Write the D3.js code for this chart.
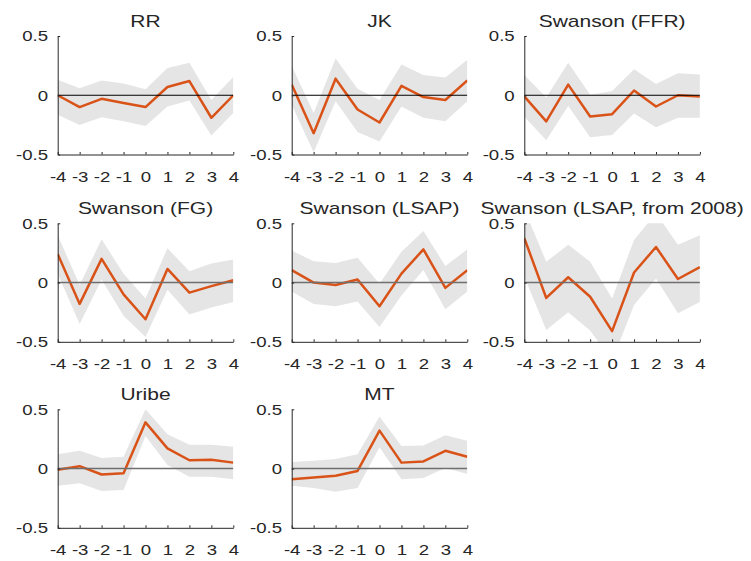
<!DOCTYPE html>
<html>
<head>
<meta charset="utf-8">
<script src="https://cdn.jsdelivr.net/npm/d3@7"></script>
<style>
  html, body { margin: 0; padding: 0; background: #fff; }
  svg { display: block; }
  text { font-family: "Liberation Sans", Arial, Helvetica, sans-serif; fill: #262626; }
</style>
</head>
<body>
<svg id="chart" width="751" height="561"></svg>
<script>
// Event-window horizons and axis ticks
const horizons = [-4, -3, -2, -1, 0, 1, 2, 3, 4];
const yTicks = [-0.5, 0, 0.5];
const yTickLabels = ["-0.5", "0", "0.5"];
const xTickLabels = ["-4", "-3", "-2", "-1", "0", "1", "2", "3", "4"];

const titles = ["RR", "JK", "Swanson (FFR)", "Swanson (FG)", "Swanson (LSAP)",
                "Swanson (LSAP, from 2008)", "Uribe", "MT"];

// Point estimates and confidence bands per shock measure
const estRR   = [0.00, -0.10, -0.03, -0.065, -0.10, 0.07, 0.12, -0.19, 0.00];
const hiRR    = [0.13, 0.06, 0.125, 0.10, 0.05, 0.23, 0.275, -0.04, 0.155];
const loRR    = [-0.165, -0.25, -0.185, -0.22, -0.26, -0.095, -0.045, -0.34, -0.15];

const estJK   = [0.09, -0.32, 0.14, -0.12, -0.23, 0.08, -0.015, -0.04, 0.125];
const hiJK    = [0.25, -0.15, 0.31, 0.055, -0.04, 0.26, 0.17, 0.15, 0.30];
const loJK    = [-0.08, -0.48, -0.05, -0.31, -0.39, -0.095, -0.19, -0.22, -0.05];

const estFFR  = [-0.01, -0.22, 0.09, -0.18, -0.16, 0.04, -0.095, 0.00, -0.01];
const hiFFR   = [0.17, -0.02, 0.275, 0.005, 0.035, 0.22, 0.095, 0.185, 0.175];
const loFFR   = [-0.18, -0.38, -0.09, -0.355, -0.335, -0.155, -0.27, -0.19, -0.19];

const estFG   = [0.24, -0.18, 0.20, -0.10, -0.31, 0.115, -0.085, -0.03, 0.02];
const hiFG    = [0.40, -0.02, 0.365, 0.075, -0.135, 0.29, 0.095, 0.16, 0.195];
const loFG    = [0.075, -0.35, 0.025, -0.28, -0.46, -0.06, -0.27, -0.21, -0.165];

const estLSAP = [0.105, 0.00, -0.02, 0.025, -0.20, 0.075, 0.28, -0.045, 0.105];
const hiLSAP  = [0.27, 0.18, 0.165, 0.21, -0.01, 0.26, 0.435, 0.14, 0.28];
const loLSAP  = [-0.075, -0.18, -0.20, -0.16, -0.375, -0.11, 0.105, -0.225, -0.075];

const estL08  = [0.375, -0.13, 0.045, -0.12, -0.41, 0.085, 0.30, 0.03, 0.13];
const hiL08   = [0.62, 0.175, 0.32, 0.175, -0.135, 0.36, 0.585, 0.32, 0.40];
const loL08   = [0.05, -0.40, -0.25, -0.405, -0.66, -0.19, 0.035, -0.26, -0.165];

const estUribe = [-0.01, 0.02, -0.05, -0.04, 0.39, 0.17, 0.07, 0.075, 0.05];
const hiUribe  = [0.12, 0.15, 0.09, 0.10, 0.50, 0.29, 0.20, 0.20, 0.185];
const loUribe  = [-0.145, -0.125, -0.19, -0.18, 0.275, 0.03, -0.07, -0.07, -0.09];

const estMT   = [-0.09, -0.075, -0.06, -0.02, 0.32, 0.05, 0.06, 0.15, 0.10];
const hiMT    = [0.055, 0.065, 0.08, 0.12, 0.44, 0.19, 0.195, 0.28, 0.235];
const loMT    = [-0.145, -0.165, -0.195, -0.165, 0.18, -0.09, -0.08, 0.005, -0.045];

const estimates = [estRR, estJK, estFFR, estFG, estLSAP, estL08, estUribe, estMT];
const uppers    = [hiRR, hiJK, hiFFR, hiFG, hiLSAP, hiL08, hiUribe, hiMT];
const lowers    = [loRR, loJK, loFFR, loFG, loLSAP, loL08, loUribe, loMT];

// Layout of the 3x3 grid of small axes
const colLeft = [57.7, 291.7, 524.3];
const rowTop = [36, 223.3, 409.3];
const plotW = 175.6;
const plotH = 118.5;

// Text is drawn horizontally widened
const tickStretch = 1.2;
const titleStretch = 1.25;

const lineColor = "#D95319";
const bandColor = "#e5e5e5";
const axisColor = "#262626";
// zero reference line styling per row
const zeroStroke = ["#000000", "#6f6f6f", "#6f6f6f"];
const zeroWidth = [1, 1.5, 1.5];

const svg = d3.select("#chart");

const x = d3.scaleLinear().domain([-4, 4]).range([0, plotW]);
const y = d3.scaleLinear().domain([-0.5, 0.5]).range([plotH, 0]);

titles.forEach((title, i) => {
  const row = Math.floor(i / 3), col = i % 3;
  const g = svg.append("g")
    .attr("transform", `translate(${colLeft[col]},${rowTop[row]})`);

  const clipId = "clip" + i;
  g.append("clipPath").attr("id", clipId)
    .append("rect").attr("x", 0).attr("y", 0).attr("width", plotW).attr("height", plotH);

  const plot = g.append("g").attr("clip-path", `url(#${clipId})`);

  const rows = horizons.map((h, k) => ({ h, est: estimates[i][k], hi: uppers[i][k], lo: lowers[i][k] }));

  plot.append("path")
    .datum(rows)
    .attr("fill", bandColor)
    .attr("d", d3.area().x(d => x(d.h)).y0(d => y(d.lo)).y1(d => y(d.hi)));

  plot.append("path")
    .datum(rows)
    .attr("fill", "none")
    .attr("stroke", lineColor)
    .attr("stroke-width", 2.5)
    .attr("stroke-linejoin", "round")
    .attr("d", d3.line().x(d => x(d.h)).y(d => y(d.est)));

  plot.append("line")
    .attr("x1", 0).attr("x2", plotW)
    .attr("y1", y(0)).attr("y2", y(0))
    .attr("stroke", zeroStroke[row])
    .attr("stroke-width", zeroWidth[row]);

  const xAxis = d3.axisBottom(x)
    .tickValues(horizons)
    .tickFormat((d, k) => xTickLabels[k])
    .tickSizeInner(-2.5)
    .tickSizeOuter(0)
    .tickPadding(16.5);

  const yAxis = d3.axisLeft(y)
    .tickValues(yTicks)
    .tickFormat((d, k) => yTickLabels[k])
    .tickSizeInner(-2.5)
    .tickSizeOuter(0)
    .tickPadding(8);

  const gx = g.append("g").attr("transform", `translate(0,${plotH})`).call(xAxis);
  const gy = g.append("g").call(yAxis);

  [gx, gy].forEach(a => {
    a.select(".domain").attr("stroke", axisColor).attr("stroke-width", 1);
    a.selectAll(".tick line").attr("stroke", axisColor).attr("stroke-width", 1);
    a.selectAll(".tick text")
      .attr("fill", axisColor)
      .attr("transform", `scale(${tickStretch},1)`)
      .style("font-family", '"Liberation Sans", Arial, Helvetica, sans-serif')
      .style("font-size", "15.5px");
  });

  g.append("text")
    .attr("transform", `translate(${plotW / 2},-9) scale(${titleStretch},1)`)
    .attr("text-anchor", "middle")
    .style("font-size", "16.8px")
    .text(title);
});
</script>
</body>
</html>
